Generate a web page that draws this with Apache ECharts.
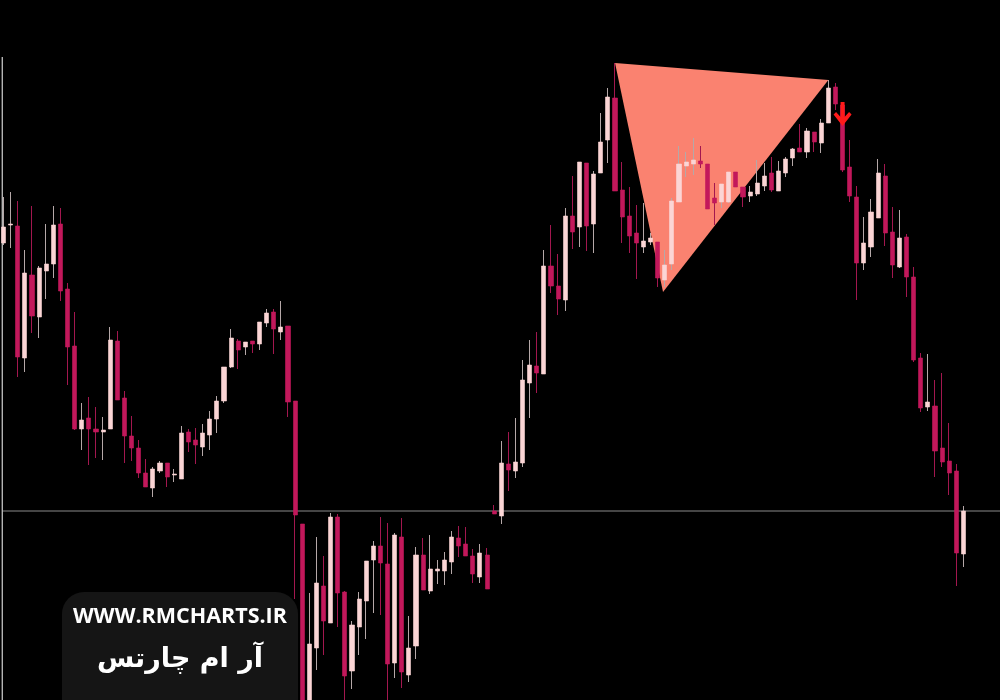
<!DOCTYPE html>
<html>
<head>
<meta charset="utf-8">
<script src="https://cdn.jsdelivr.net/npm/echarts@6/dist/echarts.min.js"></script>
<style>html,body{margin:0;padding:0;background:#000;}#c{width:1000px;height:700px;}</style>
</head>
<body>
<div id="c"></div>
<script>
// Candle values (price units), oldest first
const opens = [457,475,474,342,425,383,429,436,476,411,354,271,282,271,268,271,359,302,264,252,
227,212,229,237,225,221,268,260,253,265,281,299,333,359,353,359,356,377,388,368,
374,299,176,-10,52,114,77,183,108,29,73,99,140,154,136,37,163,25,54,145,
109,129,129,138,162,156,144,123,145,189,184,236,229,237,317,334,326,434,414,400,
484,473,537,476,527,560,602,510,484,467,453,458,458,420,436,498,534,536,539,536,
502,498,498,528,513,504,506,514,527,509,527,542,552,548,568,557,577,613,595,533,
503,437,453,482,524,468,433,463,423,342,293,294,252,239,229,146];
const closes = [473,476,343,427,384,432,436,475,409,353,271,280,271,268,270,360,300,264,252,227,
213,231,237,223,226,267,258,255,267,281,299,333,362,350,358,356,378,387,371,373,
298,185,-10,56,117,79,183,107,24,75,101,139,154,137,36,165,28,52,145,110,
131,131,140,163,154,144,126,147,111,186,237,230,238,320,335,327,434,414,401,484,
468,538,474,526,558,603,509,483,464,457,459,462,422,435,499,536,538,540,536,491,
497,516,528,513,503,508,517,524,510,529,541,551,548,569,558,577,612,596,530,504,
437,457,488,527,467,435,462,423,340,292,298,249,238,227,147,189];
const lows = [455,452,323,328,367,362,401,422,399,315,270,250,235,242,240,271,300,237,239,222,
213,203,227,213,218,221,248,236,244,250,267,297,332,331,345,347,350,373,346,360,
283,101,-15,-20,30,45,77,73,-5,11,45,61,87,85,-5,22,12,18,41,110,
106,116,115,126,143,144,117,117,111,186,176,209,222,233,282,307,326,407,385,389,
451,453,449,447,527,537,509,457,447,421,447,455,413,413,430,498,523,525,532,491,
475,492,497,513,493,498,504,509,508,509,523,534,548,542,548,547,577,590,528,498,
400,430,443,482,454,422,432,403,338,288,289,223,233,205,114,133];
const highs = [503,508,499,450,494,434,476,494,492,417,388,297,303,293,283,373,369,309,284,260,
241,233,239,237,231,274,271,272,276,289,304,333,371,361,358,359,378,391,391,399,
374,299,176,107,163,144,187,186,109,79,108,139,159,183,177,167,182,84,153,162,
165,140,148,169,174,173,151,156,152,195,259,268,282,340,360,368,450,475,446,492,
524,538,537,529,587,612,637,538,513,495,497,467,458,450,502,554,548,562,554,536,
517,516,528,528,513,514,540,537,543,539,543,552,576,572,568,581,620,617,595,560,
514,483,501,541,536,493,490,466,433,347,346,320,327,277,236,194];
const categories = opens.map((_, i) => 'Bar ' + (i + 1));

// Annotations (in category-index / price units)
const triangleIdx = [86, 116, 92.75];
const triangleVal = [637, 620, 408];
const levelValue = 189;
const levelFromIdx = -0.18, levelToIdx = 140.3;
const borderIdx = -0.18, borderTop = 643, borderBottom = 0;
const signalIdx = 118, signalVal = 586;

const wickData = opens.map((o, i) => [o, closes[i], lows[i], highs[i]]);
const bodyData = opens.map((o, i) => [o, closes[i], Math.min(o, closes[i]), Math.max(o, closes[i])]);

const chart = echarts.init(document.getElementById('c'), null, {renderer: 'canvas'});
chart.setOption({
  backgroundColor: '#000000',
  animation: false,
  grid: {left: 0, top: 0, width: 967, height: 700},
  xAxis: [
    {type: 'category', data: categories, show: false, boundaryGap: true},
    {type: 'value', min: -0.5, max: 135.5, show: false}
  ],
  yAxis: {type: 'value', min: 0, max: 700, show: false, splitLine: {show: false}},
  series: [
    {
      type: 'custom', xAxisIndex: 1, clip: false, z: 1, data: [[0]],
      renderItem: (params, api) => {
        const pts = triangleIdx.map((x, k) => api.coord([x, triangleVal[k]]));
        return {type: 'polygon', shape: {points: pts}, style: {fill: '#fa8270'}};
      }
    },
    {
      type: 'custom', xAxisIndex: 1, clip: false, z: 1, data: [[0]],
      renderItem: (params, api) => {
        const a = api.coord([levelFromIdx, levelValue]);
        const b = api.coord([levelToIdx, levelValue]);
        const c = api.coord([borderIdx, borderTop]);
        const d = api.coord([borderIdx, borderBottom]);
        return {type: 'group', children: [
          {type: 'line', shape: {x1: a[0], y1: a[1], x2: b[0], y2: b[1]}, style: {stroke: '#8a8a8a', lineWidth: 1}},
          {type: 'line', shape: {x1: c[0], y1: c[1], x2: d[0], y2: d[1]}, style: {stroke: '#c4c4c4', lineWidth: 1.3}}
        ]};
      }
    },
    {
      type: 'candlestick', name: 'wicks', data: wickData, barWidth: 1, z: 2,
      itemStyle: {color: '#b5a8a8', color0: '#a3174f', borderColor: '#b5a8a8', borderColor0: '#a3174f', borderWidth: 1}
    },
    {
      type: 'candlestick', name: 'bodies', data: bodyData, barWidth: 4.6, z: 3,
      itemStyle: {color: '#fbd5d5', color0: '#c2185b', borderColor: '#fbd5d5', borderColor0: '#c2185b', borderWidth: 0.6},
      markPoint: {
        data: [{coord: [signalIdx, signalVal]}],
        symbol: 'path://M7,0 L11,0 L11,15 L15.5,10 L18,12.5 L9,24 L0,12.5 L2.5,10 L7,15 Z',
        symbolSize: [18, 24],
        itemStyle: {color: '#ff1a1a'},
        label: {show: false}
      }
    }
  ],
  graphic: [
    {type: 'rect', left: 62, top: 592, shape: {width: 236, height: 140, r: 22}, style: {fill: '#151515'}, z: 100},
    {type: 'text', x: 180, y: 617, z: 101,
      style: {text: 'WWW.RMCHARTS.IR', fill: '#ffffff', font: 'bold 21.5px "Open Sans"', align: 'center', verticalAlign: 'middle'}},
    {type: 'text', x: 180, y: 660, z: 101,
      style: {text: 'آر ام چارتس', fill: '#ffffff', font: 'bold 27px "DejaVu Sans"', align: 'center', verticalAlign: 'middle'}}
  ]
});
</script>
</body>
</html>
